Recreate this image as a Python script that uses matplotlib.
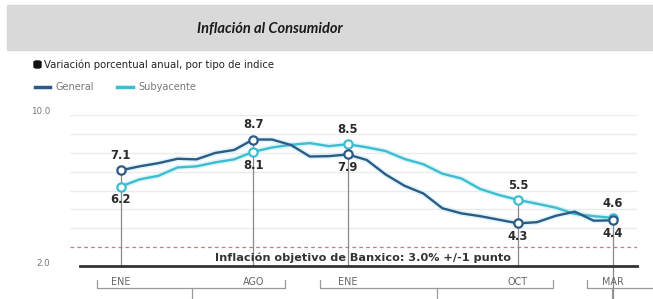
import matplotlib
matplotlib.use("Agg")
import matplotlib.pyplot as plt
from matplotlib.patches import Rectangle, FancyBboxPatch

# ---- data (Jan 2022 .. Mar 2024, annual % change) ----
general = [7.07, 7.28, 7.45, 7.68, 7.65, 7.99, 8.15, 8.70, 8.70, 8.41, 7.80, 7.82,
           7.91, 7.62, 6.85, 6.25, 5.84, 5.06, 4.79, 4.64, 4.45, 4.26, 4.32, 4.66,
           4.88, 4.40, 4.42]
subyacente = [6.21, 6.59, 6.78, 7.22, 7.28, 7.49, 7.65, 8.05, 8.28, 8.42, 8.51, 8.35,
              8.45, 8.29, 8.09, 7.67, 7.39, 6.89, 6.64, 6.08, 5.76, 5.50, 5.30, 5.09,
              4.76, 4.64, 4.55]
highlight_idx = [0, 7, 12, 21, 26]
month_labels = ["ENE", "AGO", "ENE", "OCT", "MAR"]
target = 3.0
ytick_vals = [10.0, 2.0]
ytick_labels = ["10.0", "2.0"]
year_brackets = [(-1.25, 8.68, 3.77), (10.53, 22.85, 16.72), (24.64, 28.5, 25.98)]

C_GEN = "#2e5a86"
C_SUB = "#3dbdd0"

W, H = 653, 299
fig = plt.figure(figsize=(W / 100, H / 100), dpi=100)
plt.rcParams["font.family"] = ["DejaVu Sans"]

# title band
fig.patches.append(Rectangle((7 / W, 1 - 50 / H), 1 - 7 / W, 45 / H,
                             transform=fig.transFigure, color="#d9d9d9", zorder=0))
fig.text(270 / W, 1 - 29 / H, "Inflación al Consumidor", ha="center", va="center",
         fontsize=10.5, fontweight="bold", fontstyle="italic", color="#1a1a1a",
         family=["Lato", "DejaVu Sans"])

# subtitle
fig.patches.append(FancyBboxPatch((34 / W, 1 - 68 / H), 7 / W, 7 / H,
                                  boxstyle="round,pad=0,rounding_size=0.004",
                                  transform=fig.transFigure, color="#111111"))
fig.text(44 / W, 1 - 64.5 / H, "Variación porcentual anual, por tipo de indice",
         ha="left", va="center", fontsize=7.3, color="#222222")

# legend
fig.lines.append(plt.Line2D([35 / W, 50 / W], [1 - 87 / H] * 2, transform=fig.transFigure,
                            color=C_GEN, lw=2.5))
fig.text(55 / W, 1 - 87 / H, "General", ha="left", va="center", fontsize=7, color="#777777")
fig.lines.append(plt.Line2D([117 / W, 133 / W], [1 - 87 / H] * 2, transform=fig.transFigure,
                            color=C_SUB, lw=2.5))
fig.text(138 / W, 1 - 87 / H, "Subyacente", ha="left", va="center", fontsize=7, color="#777777")

# main axes
x0, x1 = 70, 637
ax = fig.add_axes([x0 / W, 33 / H, (x1 - x0) / W, 151 / H])
px = 18.92
xmin = (x0 - 120.7) / px
xmax = (x1 - 120.7) / px
ax.set_xlim(xmin, xmax)
ax.set_ylim(2, 10)
ax.axis("off")

for v in range(4, 11):
    ax.axhline(v, color="#ebebeb", lw=1, zorder=0)
ax.axhline(target, color="#e0707e", lw=0.9, ls=(0, (3, 2.5)), zorder=1)
ax.plot([(80 - 120.7) / px, xmax], [2, 2], color="#333333", lw=2, clip_on=False, zorder=3)

xs = list(range(len(general)))
for ser, c in ((subyacente, C_SUB), (general, C_GEN)):
    ax.plot(xs, ser, color="#bfeef5", lw=4, alpha=0.5, zorder=2, solid_capstyle="round")
    ax.plot(xs, ser, color=c, lw=1.7, zorder=3)

for i, lab in zip(highlight_idx, month_labels):
    g, s = general[i], subyacente[i]
    ax.plot([i, i], [2, max(g, s)], color="#8a8a8a", lw=0.9, zorder=1)
    ax.plot(i, s, "o", ms=6, mfc="white", mec=C_SUB, mew=1.6, zorder=5)
    ax.plot(i, g, "o", ms=6, mfc="white", mec=C_GEN, mew=1.6, zorder=5)
    hi, lo = max(g, s), min(g, s)
    ax.annotate(f"{hi + 1e-9:.1f}", (i, hi), xytext=(0, 6), textcoords="offset points",
                ha="center", va="bottom", fontsize=8.3, fontweight="bold", color="#2a2a2a")
    ax.annotate(f"{lo + 1e-9:.1f}", (i, lo), xytext=(0, -5), textcoords="offset points",
                ha="center", va="top", fontsize=8.3, fontweight="bold", color="#2a2a2a")
    ax.text(i, 1.15, lab, ha="center", va="center", fontsize=6.9, color="#666666",
            clip_on=False)

ax.plot([26, 26], [2, 0.2], color="#8a8a8a", lw=0.9, clip_on=False)

for a, b, c in year_brackets:
    ax.plot([a, a, b, b], [1.26, 0.84, 0.84, 1.26], color="#999999", lw=0.9, clip_on=False)
    ax.plot([c, c], [0.84, 0.2], color="#999999", lw=0.9, clip_on=False)

ax.text((363 - 120.7) / px, 2.45, "Inflación objetivo de Banxico: 3.0% +/-1 punto",
        ha="center", va="center", fontsize=8.1, fontweight="bold", color="#333333")

for v, t in zip(ytick_vals, ytick_labels):
    fig.text(50 / W, (33 + (v - 2) * 151 / 8 + 3) / H, t, ha="right", va="center",
             fontsize=6.3, color="#777777")

fig.savefig("out.png", dpi=100)
